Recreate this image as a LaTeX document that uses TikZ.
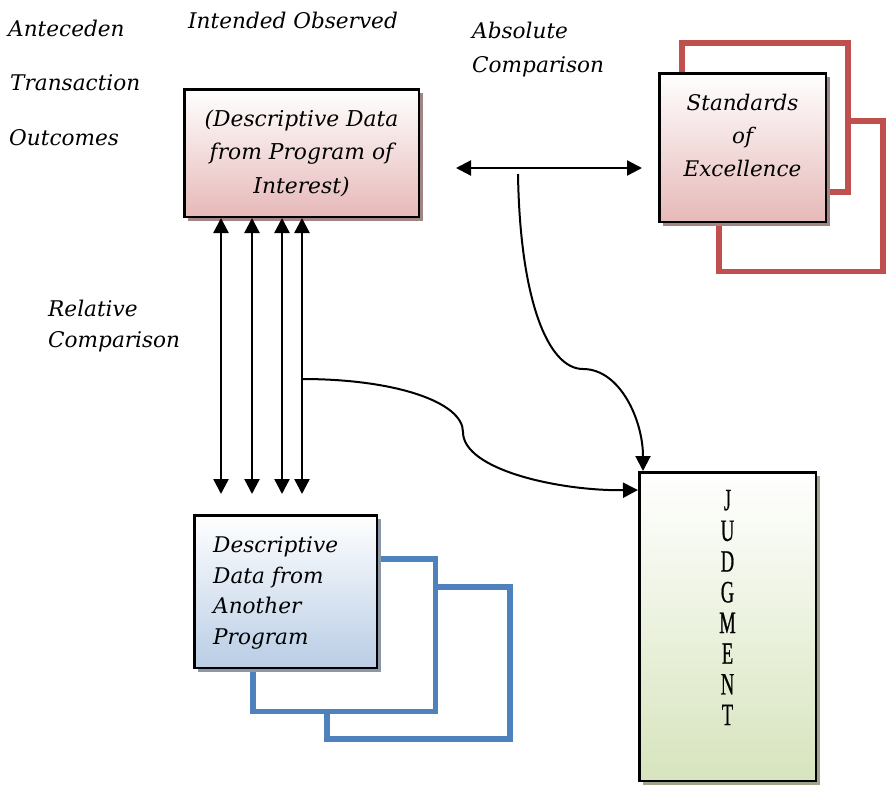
\documentclass[tikz,border=0pt]{standalone}
\usepackage{fontspec}
\usetikzlibrary{arrows.meta,shadows,calc}
\newfontfamily\labelfont{DejaVu Serif}
\newfontfamily\judgfont[FakeStretch=0.6,FakeBold=0.6]{Liberation Serif}

\definecolor{pinkfill}{HTML}{E6B9B8}
\definecolor{pinkshade}{HTML}{A08585}
\definecolor{bluefill}{HTML}{B9CDE5}
\definecolor{blueshade}{HTML}{8C98A8}
\definecolor{greenfill}{HTML}{D7E4BD}
\definecolor{greenshade}{HTML}{9EA68A}
\definecolor{redframe}{HTML}{C0504D}
\definecolor{blueframe}{HTML}{4F81BD}

\newcommand\firstline{\rule{0pt}{18pt}}

\begin{document}
\begin{tikzpicture}[x=1pt,y=-1pt,
  lbl/.style={font=\labelfont\itshape\fontsize{21.6}{33}\selectfont, inner sep=0pt, anchor=base west},
  boxtext/.style={inner sep=0pt, anchor=north},
  box/.style={draw=black, line width=2.5pt, inner sep=0pt, rectangle},
  pinkbox/.style={box, top color=white, bottom color=pinkfill,
    drop shadow={shadow xshift=4pt, shadow yshift=-4pt, fill=pinkshade, opacity=1}},
  bluebox/.style={box, top color=white, bottom color=bluefill,
    drop shadow={shadow xshift=4pt, shadow yshift=-4pt, fill=blueshade, opacity=1}},
  greenbox/.style={box, top color=white, bottom color=greenfill,
    drop shadow={shadow xshift=4pt, shadow yshift=-4pt, fill=greenshade, opacity=1}},
  frameR/.style={draw=redframe, line width=5.7pt, fill=white},
  frameB/.style={draw=blueframe, line width=5.7pt, fill=white},
  dbl/.style={{Triangle[length=15pt,width=15pt]}-{Triangle[length=15pt,width=15pt]}, line width=2.3pt},
  curve/.style={-{Triangle[length=15pt,width=15pt]}, line width=2pt}
]
\useasboundingbox (0,0) rectangle (886,785);

% column and row headings
\node[lbl] (ante)  at (8,36)  {Anteceden};
\node[lbl] (trans) at (10,90) {Transaction};
\node[lbl] (outc)  at (9,145) {Outcomes};
\node[lbl] (intobs) at (188,28) {Intended Observed};
\node[lbl] (absA) at (472,38) {Absolute};
\node[lbl] (absB) at (472,72) {Comparison};
\node[lbl] (relA) at (48,316) {Relative};
\node[lbl] (relB) at (48,347) {Comparison};

% stacked frames behind the standards box
\draw[frameR] (719,121.2) rectangle (883.3,271.5);
\draw[frameR] (681.7,43) rectangle (847.8,192);

% stacked frames behind the other-program box
\draw[frameB] (327,587.2) rectangle (510,738.8);
\draw[frameB] (252.7,559.3) rectangle (435.4,711.5);

% main boxes
\node[pinkbox, minimum width=234.5pt, minimum height=127.5pt] (top) at (301.5,153) {};
\node[boxtext, align=center, font=\labelfont\itshape\fontsize{21.8}{33.5}\selectfont] (toptext) at (301.5,108)
  {\firstline(Descriptive Data\\from Program of\\Interest)};

\node[pinkbox, minimum width=166.5pt, minimum height=148.5pt] (std) at (742.5,147.5) {};
\node[boxtext, align=center, font=\labelfont\itshape\fontsize{21.5}{33}\selectfont] (stdtext) at (742.5,92)
  {\firstline Standards\\of\\Excellence};

\node[bluebox, minimum width=182.5pt, minimum height=152.5pt] (other) at (285.5,591.5) {};
\node[boxtext, anchor=north west, align=left, font=\labelfont\itshape\fontsize{21.6}{30.8}\selectfont] (othertext) at (213,534)
  {\firstline Descriptive\\Data from\\Another\\Program};

\node[greenbox, minimum width=176.5pt, minimum height=308.5pt] (judg) at (727.5,626.5) {};
\node[boxtext, align=center, font=\judgfont\fontsize{31}{30.7}\selectfont] (judgtext) at (727.5,489)
  {\rule{0pt}{21pt}J\\U\\D\\G\\M\\E\\N\\T};

% relative comparison arrows
\foreach \xx [count=\i] in {221,252,282,302} {
  \coordinate (v\i) at (\xx,0);
  \draw[dbl, shorten >=20pt] (top.south -| v\i) -- (other.north -| v\i);
}

% absolute comparison arrow
\coordinate (absL) at (456,168);
\draw[dbl, shorten >=16pt] (absL) -- (absL -| std.west);

% links into the judgment box
\coordinate (c1) at (518,174);
\coordinate (jtop) at ([xshift=5pt]judg.north west);
\draw[curve] (c1) .. controls (520,300) and (548,369) .. (583,369)
             .. controls (620,369) and (643,420) .. (jtop);

\coordinate (c2) at (302,379);
\coordinate (jleft) at ([yshift=-19pt]judg.north west);
\draw[curve] (c2) .. controls (395,379) and (463,402) .. (463,432)
             .. controls (463,470) and (560,491) .. (jleft);
\end{tikzpicture}
\end{document}
